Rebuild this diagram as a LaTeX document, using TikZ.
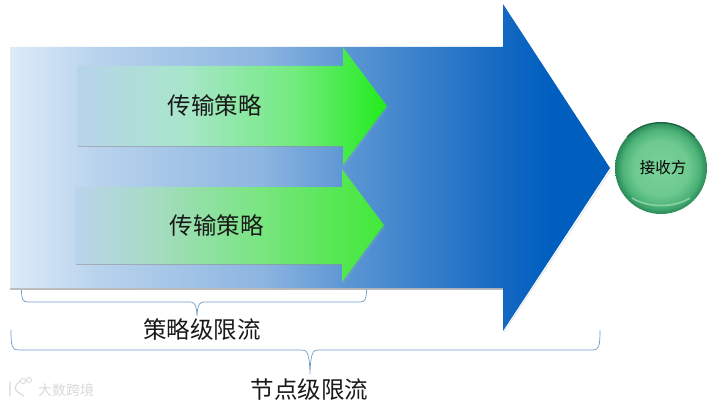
\documentclass[tikz,border=0pt]{standalone}
\usepackage{fontspec}
\setmainfont{Noto Sans CJK SC}
\usetikzlibrary{fadings}
\pgfdeclarehorizontalshading{bigblue}{100bp}{rgb(0bp)=(0.87,0.92,0.97); rgb(25bp)=(0.87,0.92,0.97); rgb(32bp)=(0.73,0.83,0.93); rgb(46bp)=(0.55,0.71,0.88); rgb(53bp)=(0.36,0.59,0.83); rgb(66bp)=(0.08,0.41,0.76); rgb(70bp)=(0,0.37,0.75); rgb(100bp)=(0,0.37,0.75)}
\pgfdeclarehorizontalshading{greenone}{100bp}{rgb(0bp)=(0.72,0.83,0.92); rgb(25bp)=(0.72,0.83,0.92); rgb(42bp)=(0.66,0.90,0.80); rgb(60bp)=(0.45,0.92,0.50); rgb(75bp)=(0.13,0.92,0.11); rgb(100bp)=(0.13,0.92,0.11)}
\pgfdeclarehorizontalshading{greentwo}{100bp}{rgb(0bp)=(0.73,0.83,0.93); rgb(25bp)=(0.73,0.83,0.93); rgb(38bp)=(0.65,0.86,0.76); rgb(55bp)=(0.47,0.90,0.50); rgb(75bp)=(0.26,0.91,0.22); rgb(100bp)=(0.26,0.91,0.22)}
\pgfdeclareradialshading{ballshade}{\pgfpoint{0bp}{0bp}}{rgb(0bp)=(0.47,0.82,0.60); rgb(15bp)=(0.43,0.79,0.56); rgb(21bp)=(0.30,0.70,0.47); rgb(25bp)=(0.16,0.54,0.34); rgb(50bp)=(0.10,0.40,0.25)}
\definecolor{bracecol}{HTML}{6F9CC6}
\definecolor{markgrey}{HTML}{D9D9D9}
\definecolor{rimcol}{HTML}{1A5A3A}
\definecolor{glowcol}{HTML}{9ADDB5}
\tikzset{
  x=1pt,y=-1pt,
  shadowline/.style={draw=black!45,line width=1.2pt,opacity=.6},
  headshadow/.style={draw=black!30,line width=.8pt,opacity=.35},
  bracepath/.style={draw=bracecol,line width=.7pt},
  bigtext/.style={inner sep=0pt,font=\fontsize{23.5}{24}\selectfont,text=black!90},
  marktext/.style={inner sep=0pt,font=\fontsize{14}{15}\selectfont,text=markgrey},
  markline/.style={draw=markgrey,line width=1.1pt,line cap=round}
}
\begin{document}
\begin{tikzpicture}
\useasboundingbox (0,0) rectangle (712,404);
% big arrow
\draw[shadowline] (10,289) -- (503,289);
\draw[headshadow] (504,332) -- (611,170);
\shade[shading=bigblue] (10,47) -- (503,47) -- (503,4) -- (610,168) -- (503,331) -- (503,288) -- (10,288) -- cycle;
% green arrow 1
\draw[shadowline,line width=1pt] (78,146.5) -- (343,146.5);
\draw[headshadow] (344,166) -- (388,107);
\shade[shading=greenone] (77,66) -- (343,66) -- (343,47) -- (387,106) -- (343,165) -- (343,146) -- (77,146) -- cycle;
% green arrow 2
\draw[shadowline,line width=1pt] (76,264.5) -- (342,264.5);
\draw[headshadow] (343,283) -- (385,226);
\shade[shading=greentwo] (75,187) -- (342,187) -- (342,169) -- (384,225) -- (342,282) -- (342,264) -- (75,264) -- cycle;
\node[bigtext] (t1) at (214.5,106) {传输策略};
\node[bigtext] (t2) at (216.5,226) {传输策略};
% braces
\draw[bracepath] (21.5,290) .. controls (21.5,299) and (22.5,302) .. (28,302) -- (190,302) .. controls (194,302) and (196.5,304) .. (197,316) .. controls (197.5,304) and (200,302) .. (204,302) -- (360,302) .. controls (365,302) and (366.5,299) .. (366.5,290);
\draw[bracepath] (11,330) .. controls (11,346) and (12,350) .. (18,350) -- (302,350) .. controls (307,350) and (309.5,353) .. (310,374) .. controls (310.5,353) and (313,350) .. (318,350) -- (593,350) .. controls (599,350) and (600,346) .. (600,330);
\node[bigtext] (l1) at (202,330) {策略级限流};
\node[bigtext] (l2) at (309.5,389.5) {节点级限流};
% ball
\shade[shading=ballshade] (661,168) circle (46);
\draw[rimcol,line width=1.2pt,opacity=.85] (627,137) .. controls (644,118) and (678,118) .. (695,137);
\draw[glowcol,opacity=.75,line width=1.6pt] (632,198) .. controls (648,208) and (674,208) .. (690,198);
\node[inner sep=0pt,font=\fontsize{15.5}{16}\selectfont,text=black] (rx) at (663,168) {接收方};
% watermark
\node[marktext] (wm) at (66,390) {大数跨境};
\draw[markline] (10,382) -- (10,396) (20,381) .. controls (13,387) and (13,390) .. (24,396);
\draw[markline,line width=.8pt] (23,381) circle (2.6) (29,380) circle (2.6);
\end{tikzpicture}
\end{document}
